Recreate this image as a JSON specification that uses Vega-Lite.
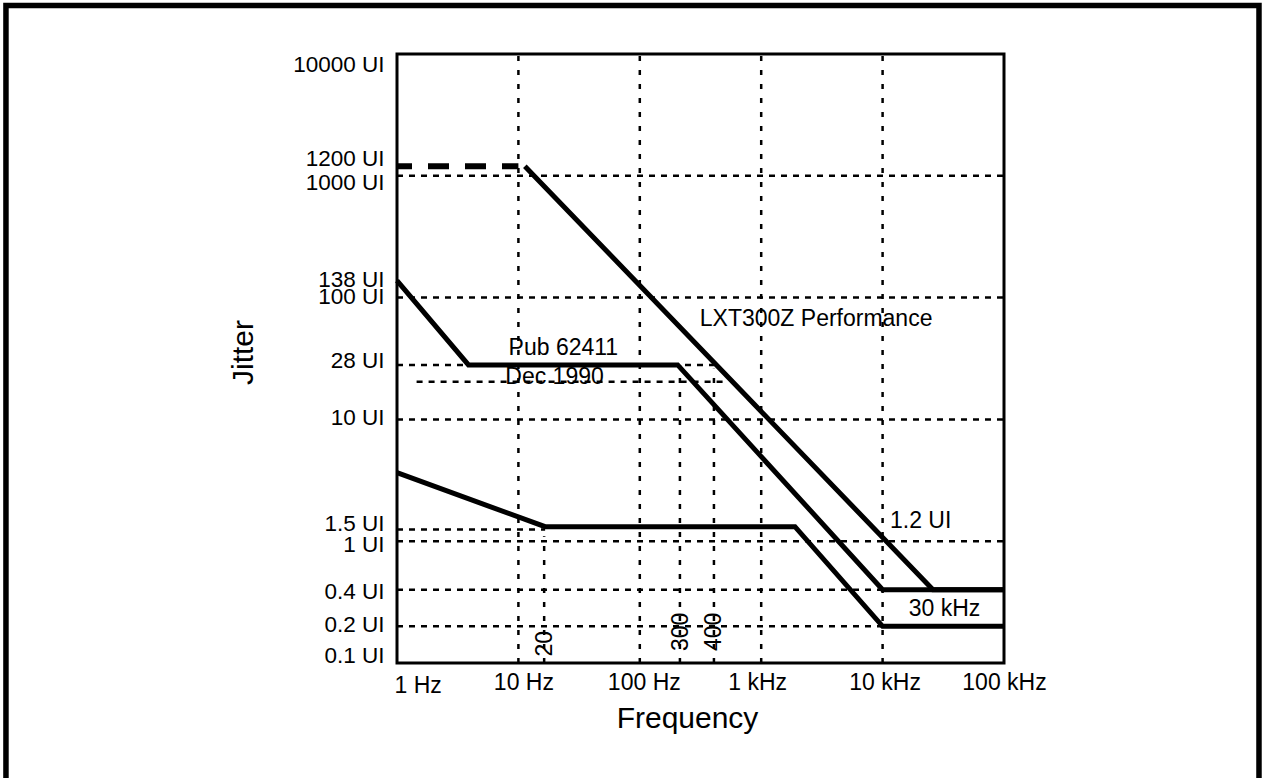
{
  "$schema": "https://vega.github.io/schema/vega-lite/v6.json",
  "width": 607,
  "height": 609,
  "autosize": {"type": "none"},
  "padding": {"left": 397, "top": 54, "right": 261, "bottom": 115},
  "background": "white",
  "config": {
    "view": {"stroke": "black", "strokeWidth": 3},
    "font": "Liberation Sans",
    "text": {"font": "Liberation Sans", "fontSize": 23, "color": "black"}
  },
  "datasets": {
    "hgrid": [
      {"j": 1000, "f": 1, "f2": 100000},
      {"j": 100, "f": 1, "f2": 100000},
      {"j": 28, "f": 1, "f2": 408},
      {"j": 20.4, "f": 1.45, "f2": 520},
      {"j": 10, "f": 1, "f2": 100000},
      {"j": 1.25, "f": 1, "f2": 16.6},
      {"j": 1, "f": 1, "f2": 100000},
      {"j": 0.4, "f": 1, "f2": 10000},
      {"j": 0.2, "f": 1, "f2": 10000}
    ],
    "vgrid": [
      {"f": 10, "j": 0.1, "j2": 10000},
      {"f": 100, "j": 0.1, "j2": 10000},
      {"f": 1000, "j": 0.1, "j2": 10000},
      {"f": 10000, "j": 0.1, "j2": 10000},
      {"f": 16.3, "j": 0.1, "j2": 1.1},
      {"f": 214, "j": 0.1, "j2": 28},
      {"f": 408, "j": 0.1, "j2": 26}
    ],
    "dashed": [
      {"series": "LXT300Z extension", "f": 1, "j": 1200},
      {"series": "LXT300Z extension", "f": 10, "j": 1200}
    ],
    "curves": [
      {"series": "LXT300Z Performance", "f": 11.3, "j": 1200},
      {"series": "LXT300Z Performance", "f": 26000, "j": 0.4},
      {"series": "LXT300Z Performance", "f": 100000, "j": 0.4},
      {"series": "Pub 62411", "f": 1, "j": 138},
      {"series": "Pub 62411", "f": 3.88, "j": 28},
      {"series": "Pub 62411", "f": 205, "j": 28},
      {"series": "Pub 62411", "f": 10000, "j": 0.4},
      {"series": "Pub 62411", "f": 100000, "j": 0.4},
      {"series": "Lower", "f": 1, "j": 3.65},
      {"series": "Lower", "f": 16.6, "j": 1.315},
      {"series": "Lower", "f": 1897, "j": 1.315},
      {"series": "Lower", "f": 10000, "j": 0.2},
      {"series": "Lower", "f": 100000, "j": 0.2}
    ],
    "notes": [
      {"label": "Pub 62411", "f": 8.3, "j": 33.8},
      {"label": "Dec 1990", "f": 7.8, "j": 19.53},
      {"label": "LXT300Z Performance", "f": 312, "j": 58.5},
      {"label": "1.2 UI", "f": 11500, "j": 1.276},
      {"label": "30 kHz", "f": 16400, "j": 0.2445}
    ],
    "vnotes": [
      {"label": "20", "f": 16.5, "j": 0.1438},
      {"label": "300", "f": 218, "j": 0.18},
      {"label": "400", "f": 406, "j": 0.18}
    ]
  },
  "layer": [
    {
      "data": {"name": "hgrid"},
      "mark": {"type": "rule", "color": "black", "strokeWidth": 2.5, "strokeDash": [6, 6]},
      "encoding": {
        "y": {
          "field": "j", "type": "quantitative", "title": "Jitter",
          "scale": {"type": "log", "domain": [0.1, 10000]},
          "axis": {
            "title": "Jitter",
            "values": [0.1, 0.2, 0.4, 1, 1.5, 10, 28, 100, 138, 1000, 1200, 10000],
            "labelExpr": "datum.value + ' UI'",
            "labelFont": "Liberation Sans", "labelFontSize": 22.5, "labelColor": "black",
            "labelPadding": 13, "labelOverlap": false, "labelBound": false, "labelFlush": false,
            "ticks": false, "domain": false, "grid": false,
            "labelOffset": {
              "condition": [
                {"test": "datum.value == 10000", "value": 10},
                {"test": "datum.value == 1200", "value": -8},
                {"test": "datum.value == 1000", "value": 7},
                {"test": "datum.value == 28", "value": -4},
                {"test": "datum.value == 1.5", "value": 3.5},
                {"test": "datum.value == 1", "value": 3},
                {"test": "datum.value == 0.4", "value": 2},
                {"test": "datum.value == 0.1", "value": -8}
              ],
              "value": -1.5
            },
            "titleFont": "Liberation Sans", "titleFontSize": 30, "titleFontWeight": "normal", "titleColor": "black",
            "titleAngle": 270, "titleAlign": "center", "titleBaseline": "alphabetic",
            "titleX": -145, "titleY": 298
          }
        },
        "x": {
          "field": "f", "type": "quantitative", "title": "Frequency",
          "scale": {"type": "log", "domain": [1, 100000]},
          "axis": {
            "title": "Frequency",
            "values": [1, 10, 100, 1000, 10000, 100000],
            "labelExpr": "datum.value >= 1000 ? (datum.value / 1000) + ' kHz' : datum.value + ' Hz'",
            "labelFont": "Liberation Sans", "labelFontSize": 23, "labelColor": "black",
            "labelPadding": {"condition": {"test": "datum.value == 1", "value": 11}, "value": 8},
            "labelBaseline": "top",
            "labelAlign": {"condition": {"test": "datum.value == 1", "value": "left"}, "value": "center"},
            "labelOffset": {
              "condition": [
                {"test": "datum.value == 1", "value": -3},
                {"test": "datum.value == 10", "value": 5},
                {"test": "datum.value == 100", "value": 4},
                {"test": "datum.value == 1000", "value": -4},
                {"test": "datum.value == 10000", "value": 2}
              ],
              "value": 0
            },
            "labelOverlap": false, "labelBound": false, "labelFlush": false,
            "ticks": false, "domain": false, "grid": false,
            "titleFont": "Liberation Sans", "titleFontSize": 30, "titleFontWeight": "normal", "titleColor": "black",
            "titleAlign": "center", "titleBaseline": "alphabetic",
            "titleX": 290, "titleY": 64
          }
        },
        "x2": {"field": "f2"}
      }
    },
    {
      "data": {"name": "vgrid"},
      "mark": {"type": "rule", "color": "black", "strokeWidth": 2.5, "strokeDash": [5, 9]},
      "encoding": {
        "x": {"field": "f", "type": "quantitative", "title": "Frequency", "scale": {"type": "log", "domain": [1, 100000]}},
        "y": {"field": "j", "type": "quantitative", "title": "Jitter", "scale": {"type": "log", "domain": [0.1, 10000]}},
        "y2": {"field": "j2"}
      }
    },
    {
      "data": {"name": "dashed"},
      "mark": {"type": "line", "color": "black", "strokeWidth": 6, "strokeDash": [21, 16], "strokeDashOffset": 6, "strokeCap": "butt"},
      "encoding": {
        "x": {"field": "f", "type": "quantitative", "title": "Frequency", "scale": {"type": "log", "domain": [1, 100000]}},
        "y": {"field": "j", "type": "quantitative", "title": "Jitter", "scale": {"type": "log", "domain": [0.1, 10000]}}
      }
    },
    {
      "data": {"name": "curves"},
      "mark": {"type": "line", "color": "black", "strokeWidth": 5, "strokeJoin": "miter"},
      "encoding": {
        "x": {"field": "f", "type": "quantitative", "title": "Frequency", "scale": {"type": "log", "domain": [1, 100000]}},
        "y": {"field": "j", "type": "quantitative", "title": "Jitter", "scale": {"type": "log", "domain": [0.1, 10000]}},
        "detail": {"field": "series", "type": "nominal"}
      }
    },
    {
      "data": {"name": "notes"},
      "mark": {"type": "text", "align": "left", "baseline": "alphabetic", "fontSize": 23, "font": "Liberation Sans", "color": "black"},
      "encoding": {
        "x": {"field": "f", "type": "quantitative", "title": "Frequency", "scale": {"type": "log", "domain": [1, 100000]}},
        "y": {"field": "j", "type": "quantitative", "title": "Jitter", "scale": {"type": "log", "domain": [0.1, 10000]}},
        "text": {"field": "label"}
      }
    },
    {
      "data": {"name": "vnotes"},
      "mark": {"type": "text", "align": "center", "baseline": "middle", "angle": 270, "fontSize": 23, "font": "Liberation Sans", "color": "black"},
      "encoding": {
        "x": {"field": "f", "type": "quantitative", "title": "Frequency", "scale": {"type": "log", "domain": [1, 100000]}},
        "y": {"field": "j", "type": "quantitative", "title": "Jitter", "scale": {"type": "log", "domain": [0.1, 10000]}},
        "text": {"field": "label"}
      }
    },
    {
      "data": {"values": [{}]},
      "mark": {"type": "rect", "fill": "transparent", "stroke": "black", "strokeWidth": 5.5, "clip": false},
      "encoding": {
        "x": {"datum": 0.000601, "type": "quantitative", "title": "Frequency", "scale": {"type": "log", "domain": [1, 100000]}},
        "x2": {"datum": 12600000},
        "y": {"datum": 25000, "type": "quantitative", "title": "Jitter", "scale": {"type": "log", "domain": [0.1, 10000]}},
        "y2": {"datum": 0.0075}
      }
    }
  ]
}
